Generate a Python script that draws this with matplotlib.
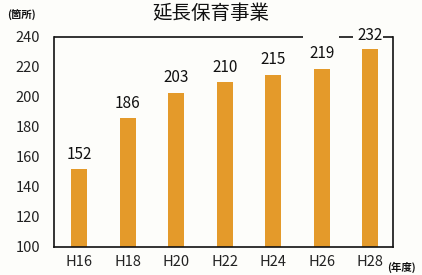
import numpy as np
import matplotlib.pyplot as plt

plt.rcParams['font.family'] = ['Noto Sans CJK JP', 'DejaVu Sans']

years = ['H16', 'H18', 'H20', 'H22', 'H24', 'H26', 'H28']
counts = [152, 186, 203, 210, 215, 219, 232]
value_labels = ['152', '186', '203', '210', '215', '219', '232']

bar_color = '#E49A2A'
bg = '#FDFDFA'

fig = plt.figure(figsize=(4.22, 2.75), dpi=100, facecolor=bg)
ax = fig.add_axes([54/422, 1-247/275, (393-54)/422, (247-37)/275])
ax.set_facecolor(bg)

x = np.arange(len(years))
bars = ax.bar(x, counts, width=0.33, color=bar_color, bottom=0)

ax.set_xlim(-0.52, 6.47)
ax.set_ylim(100, 240)
ax.set_yticks(np.arange(100, 241, 20))
ax.tick_params(axis='both', length=0, labelsize=10.5, colors='#222222')
ax.tick_params(axis='y', pad=10)
ax.tick_params(axis='x', pad=6)
ax.set_xticks(x)
ax.set_xticklabels(years)

for s in ['left', 'bottom', 'right']:
    ax.spines[s].set_color('#111111')
    ax.spines[s].set_linewidth(1.2)
ax.spines['top'].set_visible(False)

# broken top border around the last label
trans = ax.get_xaxis_transform()
for x0, x1 in [(-0.52, 4.62), (5.36, 5.64), (6.27, 6.47)]:
    ax.plot([x0, x1], [1, 1], color='#111111', lw=1.2, transform=trans,
            clip_on=False, solid_capstyle='butt')

for i, (c, t) in enumerate(zip(counts, value_labels)):
    ypos = c + 4 if i < 6 else 241
    ax.text(i, ypos, t, ha='center', va='bottom' if i < 6 else 'center',
            fontsize=11, color='#111111')

fig.text(0.5, 0.95, '延長保育事業', ha='center', va='center', fontsize=14,
         color='#111111')
fig.text(0.018, 0.945, '(箇所)', ha='left', va='center', fontsize=7.5,
         fontweight='bold', color='#111111')
fig.text(0.918, 0.027, '(年度)', ha='left', va='center', fontsize=7.5,
         fontweight='bold', color='#111111')

fig.savefig('out.png', dpi=100, facecolor=bg)
